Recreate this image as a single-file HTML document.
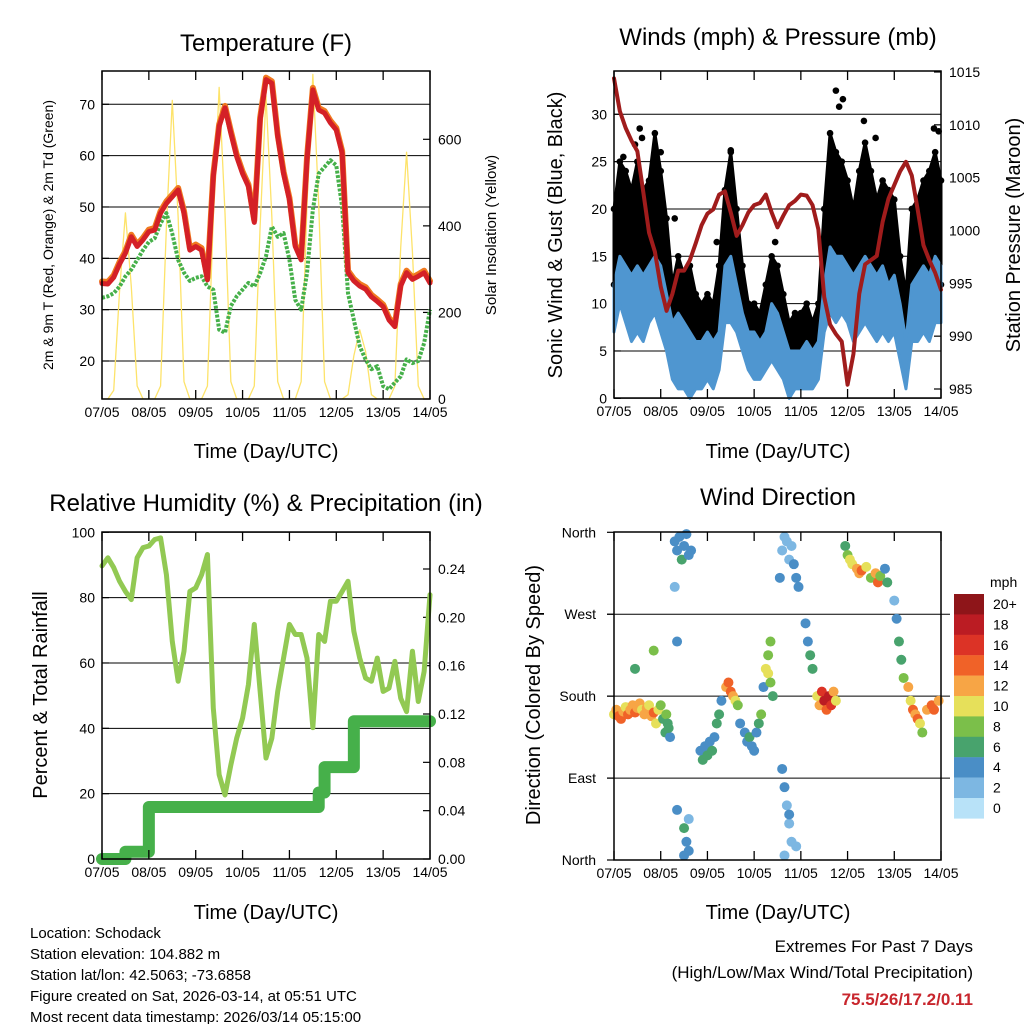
<!DOCTYPE html>
<html><head><meta charset="utf-8"><style>
body{margin:0;background:#fff}
svg{display:block;font-family:"Liberation Sans",Arial,sans-serif}
</style></head><body>
<svg id="s" width="1024" height="1024" viewBox="0 0 1024 1024" xmlns="http://www.w3.org/2000/svg">
<rect width="1024" height="1024" fill="#fff"/>
<g font-size="24" text-anchor="middle" fill="#000">
<text x="266" y="51">Temperature (F)</text>
<text x="778" y="45">Winds (mph) &amp; Pressure (mb)</text>
<text x="266" y="511">Relative Humidity (%) &amp; Precipitation (in)</text>
<text x="778" y="505">Wind Direction</text>
</g>
<g font-size="20" text-anchor="middle">
<text x="266" y="458">Time (Day/UTC)</text>
<text x="778" y="458">Time (Day/UTC)</text>
<text x="266" y="919">Time (Day/UTC)</text>
<text x="778" y="919">Time (Day/UTC)</text>
<text transform="translate(53,235) rotate(-90)" font-size="14">2m &amp; 9m T (Red, Orange) &amp; 2m Td (Green)</text>
<text transform="translate(496,235) rotate(-90)" font-size="15">Solar Insolation (Yellow)</text>
<text transform="translate(562,235) rotate(-90)">Sonic Wind &amp; Gust (Blue, Black)</text>
<text transform="translate(1020,235) rotate(-90)">Station Pressure (Maroon)</text>
<text transform="translate(47,695) rotate(-90)">Percent &amp; Total Rainfall</text>
<text transform="translate(540,695) rotate(-90)">Direction (Colored By Speed)</text>
</g>
<g font-size="15">
<text x="30" y="938">Location: Schodack</text>
<text x="30" y="959">Station elevation: 104.882 m</text>
<text x="30" y="980">Station lat/lon: 42.5063; -73.6858</text>
<text x="30" y="1001">Figure created on Sat, 2026-03-14, at 05:51 UTC</text>
<text x="30" y="1022">Most recent data timestamp: 2026/03/14 05:15:00</text>
</g>
<g font-size="17" text-anchor="end">
<text x="973" y="952">Extremes For Past 7 Days</text>
<text x="973" y="978">(High/Low/Max Wind/Total Precipitation)</text>
<text x="973" y="1005" fill="#c8262d" font-weight="bold">75.5/26/17.2/0.11</text>
</g>
</svg>
<script>
// ---- data (3-hourly, days since 07/05) ----
const dayLabels=["07/05","08/05","09/05","10/05","11/05","12/05","13/05","14/05"];
const temp2m=[35.1,35,36.3,38.9,41,44.2,42.3,43.6,45.2,45.5,48.8,50.7,52,53.3,48.8,41.6,42.3,41.6,35.8,55.9,65.7,69.3,64.4,59.8,56.5,54,47,67,74.8,74.1,63.7,56.5,51.4,42.3,39.7,59.2,72.8,68.9,68.3,66.4,65,60.5,37.2,35.6,34.6,34,32.5,31.6,30.6,28,26.7,34.6,37.2,35.9,36.5,37.2,35.2];
const dew2m=[32.3,32.6,33.2,34.5,36.5,37.8,39.7,41.6,43.2,43.9,46.8,48.8,44.8,39.7,37.2,35.6,36.2,36.5,34.5,33.9,26.1,25.5,30.7,32.6,33.9,35.2,34.5,37.1,40.4,46.2,44.2,44.9,39.7,31.9,30,37.1,49.5,56.5,57.8,59.1,58.1,50,33.2,28,22.9,20.3,18.4,19,15.1,14.5,15.8,17,20.3,19.6,20,23.5,30];
const solar=[0,0,20,250,430,260,30,0, 0,0,30,400,690,420,40,0, 0,0,30,420,720,430,40,0, 0,0,30,400,700,420,40,0, 0,0,40,450,750,450,40,0, 0,0,10,100,160,110,10,0, 0,0,30,350,570,340,30,0, 0];
const pressure=[1014.4,1011.3,1009.7,1008.5,1007.5,1003.7,999.8,998,994.7,992.4,994,996.2,996.2,997.2,998.8,1000.5,1001.6,1002,1003.4,1003.7,1001.7,999.5,1000.5,1001.7,1002.4,1002.6,1003.4,1001.7,1000.3,1001.4,1002.4,1002.8,1003.4,1003.3,1002.4,1000.1,993.7,991.1,990.2,989.5,985.4,988.3,994,996.8,997.2,997.6,1000.8,1003,1004.3,1005.6,1006.5,1005.2,1002,998.6,997.2,996,994.4];
const windHi=[12,15,14,13,14,13,14,15,14,11,8,9,8,7,6,6,7,6,7,14,15,12,9,7,7,6,7,10,9,7,5,5,5,6,5,6,12,16,15,15,14,13,14,15,14,13,14,12,13,10,6,12,13,14,13,15,14];
const windLo=[7,10,8,6,7,6,8,9,7,5,2,1,1,0,1,1,2,1,3,8,8,7,5,3,2,2,3,4,3,2,0,1,1,1,1,2,7,9,8,9,8,6,7,8,7,6,7,6,7,4,1,6,6,7,6,8,8];
const gustHi=[20,25,24,22,25,22,23,28,24,19,12,15,13,14,11,10,11,10,14,22,26,20,14,10,10,9,12,15,14,11,8,9,9,10,8,10,20,28,26,25,23,20,24,27,24,21,23,22,21,15,11,20,21,23,24,26,23];
const gustLo=[12,14,13,12,13,12,13,14,12,9,5,6,5,4,4,4,5,4,8,12,14,10,7,5,5,4,5,7,6,4,3,3,4,4,3,4,12,15,14,14,12,10,12,14,12,11,12,11,11,8,4,10,11,12,12,13,12];
const gustOutDay=[0.55,0.6,0.45,2.5,4.75,4.82,4.9,5.35,5.6,6.85,6.95,1.3,2.2,3.45,0.2,1.0];
const gustOutVal=[28.5,27.5,26.8,26.2,32.5,30.8,31.6,29.3,27.5,28.5,28.2,19,16.5,16.5,25.5,26];
const rh=[89.7,92.2,89.2,85,81.9,79.4,92.2,95.3,95.8,97.8,98.3,87,66.6,54.4,63.6,81.9,83,87,93.2,46.2,25.8,19.6,28.8,37,43.1,53.4,71.8,51.3,30.9,37,51.3,61.5,71.8,68.7,68.7,61.5,40.2,68.7,66.6,78.9,78.9,81.9,85,69.7,61.5,55.4,54.4,61.5,51.3,52.3,60.5,49.2,45.1,63.6,48.2,57.4,80.9];
const rain=[0,0,0,0,0.006,0.006,0.006,0.006,0.043,0.043,0.043,0.043,0.043,0.043,0.043,0.043,0.043,0.043,0.043,0.043,0.043,0.043,0.043,0.043,0.043,0.043,0.043,0.043,0.043,0.043,0.043,0.043,0.043,0.043,0.043,0.043,0.043,0.055,0.076,0.076,0.076,0.076,0.076,0.114,0.114,0.114,0.114,0.114,0.114,0.114,0.114,0.114,0.114,0.114,0.114,0.114,0.114];
const dirDay=[0,0.05,0.1,0.15,0.2,0.25,0.3,0.35,0.4,0.45,0.5,0.55,0.6,0.65,0.7,0.75,0.8,0.85,0.9,0.95,1.0,1.05,1.1,1.12,1.15,1.2,1.17,0.85,0.45,1.3,1.35,1.4,1.45,1.5,1.55,1.6,1.65,1.3,1.35,1.35,1.5,1.55,1.6,1.5,1.6,1.85,1.9,1.95,2.0,2.05,2.1,2.15,2.2,2.25,2.3,2.4,2.45,2.5,2.55,2.6,2.65,2.7,2.8,2.85,2.9,2.95,3.0,3.05,3.1,3.15,3.2,3.25,3.3,3.35,3.3,3.35,3.4,3.6,3.7,3.75,3.8,3.85,3.9,3.95,3.65,3.55,3.6,3.65,3.7,3.75,3.8,3.65,3.75,3.9,4.1,4.15,4.2,4.25,4.35,4.4,4.45,4.5,4.55,4.6,4.65,4.7,4.75,4.95,5.0,5.05,5.1,5.2,5.25,5.3,5.4,5.5,5.6,5.65,5.7,5.8,5.85,6.0,6.05,6.1,6.15,6.2,6.3,6.35,6.4,6.45,6.5,6.55,6.6,6.7,6.8,6.85,6.95];
const dirDeg=[160,165,158,155,163,168,160,165,170,162,167,172,165,160,167,170,158,162,150,165,170,155,140,160,150,135,145,230,210,350,340,355,330,345,358,335,340,300,240,55,35,20,45,5,10,120,110,125,115,130,120,135,150,160,175,190,195,185,180,175,170,150,140,130,135,125,120,140,150,160,190,210,225,240,205,195,180,340,350,330,345,325,310,300,355,310,100,80,60,40,20,5,50,15,260,240,225,210,180,170,185,175,165,180,170,185,175,345,335,330,325,320,315,318,322,310,315,305,312,320,305,285,265,240,220,200,190,175,165,160,155,150,140,165,170,165,175];
const dirSpd=[10,12,14,13,12,10,13,11,12,14,12,11,10,12,11,10,12,13,10,9,7,6,5,7,6,4,5,7,6,3,4,4,6,4,3,4,3,2,3,3,6,4,2,4,3,4,6,4,5,4,6,4,5,6,4,12,14,14,12,10,7,4,4,4,5,4,4,3,5,7,4,9,8,7,10,8,6,2,2,2,2,3,4,4,1,3,3,4,2,1,2,2,4,2,4,4,5,6,10,12,16,18,14,17,15,12,10,6,7,9,10,12,11,14,10,8,12,14,7,4,6,2,4,5,6,8,11,10,13,12,14,9,7,12,14,13,11];
const speedLabels=["20+","18","16","14","12","10","8","6","4","2","0"];
const speedColors=["#8e1519","#bb1c23","#dc3326","#f06228","#f7a545","#e6e05a","#7bbf4a","#48a36d","#4a8ec6","#7db7e2","#b8e2f8"];
const tempTicks=[20,30,40,50,60,70];
const solarTicks=[0,200,400,600];
const windTicks=[0,5,10,15,20,25,30];
const presTicks=[985,990,995,1000,1005,1010,1015];
const rhTicks=[0,20,40,60,80,100];
const rainTicks=[0,0.04,0.08,0.12,0.16,0.2,0.24];
const dirNames=["North","East","South","West","North"];
const dirTicks=[0,90,180,270,360];

const NS="http://www.w3.org/2000/svg", S=document.getElementById('s');
function mk(tag,at,par){const e=document.createElementNS(NS,tag);for(const k in at)e.setAttribute(k,at[k]);(par||S).appendChild(e);return e;}
function lin(d0,d1,r0,r1){return v=>r0+(v-d0)*(r1-r0)/(d1-d0);}
const STEP=0.125;

function frame(name,x0,x1,y0,y1){
  const g=mk('g',{});
  
  
  const X=lin(0,7,x0,x1);
  dayLabels.forEach((l,i)=>{
    const x=X(i);
    mk('line',{x1:x,x2:x,y1:y0,y2:y0+9,stroke:'#000','stroke-width':1.3},g);
    mk('line',{x1:x,x2:x,y1:y1,y2:y1-9,stroke:'#000','stroke-width':1.3},g);
    const t=mk('text',{x:x,y:y1+18,'font-size':14,'text-anchor':'middle'},g);
    t.textContent=l;
    
    
  });
  mk('rect',{x:x0,y:y0,width:x1-x0,height:y1-y0,fill:'none',stroke:'#000','stroke-width':1.5},g);
  return X;
}
function yAxis(ticks,Y,x,side,fmt,gx0,gx1,grid){
  ticks.forEach(v=>{
    const y=Y(v);
    mk('line',{x1:x,x2:x+(side<0?7:-7),y1:y,y2:y,stroke:'#000','stroke-width':1.2});
    if(grid && gx0!==undefined) mk('line',{x1:gx0,x2:gx1,y1:y,y2:y,stroke:'#000','stroke-width':1});
    const t=mk('text',{x:side<0?x-7:x+8,y:y+5,'font-size':14,'text-anchor':side<0?'end':'start'});
    t.textContent=fmt(v);
    
    
  });
}
function path(vals,X,Y,attrs,name,step){
  let d='';
  vals.forEach((v,i)=>{const x=X(i*STEP),y=Y(v);
    if(i===0)d='M'+x+' '+y;else if(step)d+='H'+x+'V'+y;else d+='L'+x+' '+y;});
  const p=mk('path',Object.assign({d:d,fill:'none','stroke-linejoin':'round','stroke-linecap':'round'},attrs));
  
  
  return p;
}

// ---- Panel 1: temperature ----
{const x0=102,x1=430,y0=71,y1=399;
 const Yt=lin(20,70,361,104.3), Ys=lin(0,600,399,139.3);
 yAxis(tempTicks,Yt,x0,-1,v=>v,x0,x1,true);
 yAxis(solarTicks,Ys,x1,1,v=>v);
 const X=lin(0,7,x0,x1);
 const cp=mk('clipPath',{id:'c1'});
 mk('rect',{x:x0,y:y0,width:x1-x0,height:y1-y0},cp);
 path(solar,X,Ys,{stroke:'#fde36a','stroke-width':1.3,'clip-path':'url(#c1)'},'solar-insolation-line');
 path(dew2m,X,Yt,{stroke:'#46b04a','stroke-width':4,'stroke-dasharray':'3 1.5','stroke-linecap':'butt'},'dewpoint-2m-line');
 path(temp2m,X,Yt,{stroke:'#f07a20','stroke-width':6,transform:'translate(0,-2)'},'temp-9m-line');
 path(temp2m,X,Yt,{stroke:'#d42027','stroke-width':5},'temp-2m-line');
 frame('temperature',x0,x1,y0,y1);
}
// ---- Panel 2: winds & pressure ----
{const x0=614,x1=941,y0=71,y1=398;
 const Yw=lin(0,30,398.3,114.3), Yp=lin(985,1015,389,72);
 yAxis(windTicks,Yw,x0,-1,v=>v,x0,x1,true);
 yAxis(presTicks,Yp,x1,1,v=>v);
 const X=lin(0,7,x0,x1);
 const band=(hi,lo,fill,name)=>{
   let pts=hi.map((v,i)=>X(i*STEP)+','+Yw(v));
   pts=pts.concat(lo.map((v,i)=>X(i*STEP)+','+Yw(v)).reverse());
   const p=mk('polygon',{points:pts.join(' '),fill:fill,stroke:fill,'stroke-width':3,'stroke-linejoin':'round'});
   
   
 };
 band(gustHi,gustLo,'#000','gust-band');
 gustHi.forEach((v,i)=>{[v,gustLo[i]].forEach(w=>{
   const c=mk('circle',{cx:X(i*STEP),cy:Yw(w),r:3.3,fill:'#000'});
   
   });});
 gustOutDay.forEach((d,i)=>{
   const c=mk('circle',{cx:X(d),cy:Yw(gustOutVal[i]),r:3.3,fill:'#000'});
   
   });
 band(windHi,windLo,'#4f96d0','wind-band');
 path(pressure,X,Yp,{stroke:'#a01c1c','stroke-width':4},'pressure-line');
 frame('winds',x0,x1,y0,y1);
}
// ---- Panel 3: RH & rain ----
{const x0=102,x1=430,y0=532,y1=859;
 const Yr=lin(0,100,859,532.3), Yq=lin(0,0.24,859,569);
 yAxis(rhTicks,Yr,x0,-1,v=>v,x0,x1,true);
 yAxis(rainTicks,Yq,x1,1,v=>v.toFixed(2));
 const X=lin(0,7,x0,x1);
 path(rh,X,Yr,{stroke:'#92c953','stroke-width':5},'relative-humidity-line');
 path(rain,X,Yq,{stroke:'#46b04a','stroke-width':12},'total-rainfall-line',true);
 frame('humidity',x0,x1,y0,y1);
}
// ---- Panel 4: wind direction ----
{const x0=614,x1=941,y0=532,y1=860;
 const Yd=lin(0,360,860,532.3);
 dirTicks.forEach((v,i)=>{const y=Yd(v);
   if(i>0&&i<4)mk('line',{x1:607,x2:950,y1:y,y2:y,stroke:'#000','stroke-width':1});
   mk('line',{x1:x0-7,x2:x0,y1:y,y2:y,stroke:'#000','stroke-width':1.2});
   const t=mk('text',{x:596,y:y+5,'font-size':14,'text-anchor':'end'});
   t.textContent=dirNames[i];
   
   });
 const X=lin(0,7,x0,x1);
 const col=s=>speedColors[10-Math.max(0,Math.min(10,Math.round(s/2)))];
 dirDay.forEach((d,i)=>{
   const c=mk('circle',{cx:X(d),cy:Yd(dirDeg[i]),r:5,fill:col(dirSpd[i])});
   
   });
 frame('wind-direction',x0,x1,y0,y1);
 const lg=mk('g',{});
 
 
 const tt=mk('text',{x:990,y:587,'font-size':14},lg);tt.textContent='mph';
 speedColors.forEach((c,i)=>{
   const r=mk('rect',{x:954,y:594+i*20.4,width:30,height:20.6,fill:c},lg);
   
   
   const t=mk('text',{x:993,y:609+i*20.4,'font-size':14},lg);
   t.textContent=speedLabels[i];
   
   });
}
</script>
</body></html>
